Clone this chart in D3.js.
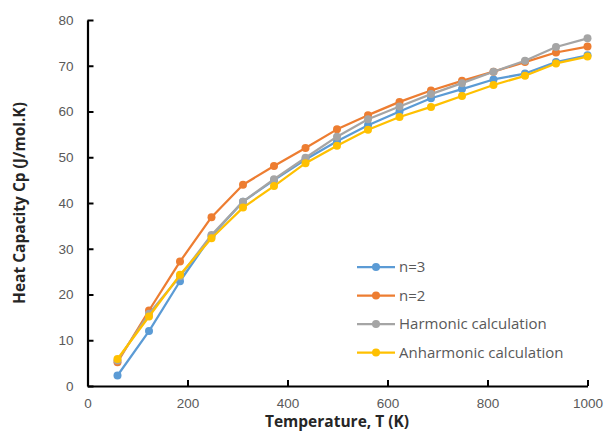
<!DOCTYPE html>
<html>
<head>
<meta charset="utf-8">
<script src="https://cdn.jsdelivr.net/npm/d3@7"></script>
<style>
  html, body { margin: 0; padding: 0; background: #fff; }
  svg { display: block; font-family: "Open Sans", "Liberation Sans", sans-serif; }
  .tick text { fill: #595959; font-size: 13.5px; }
  .axis-title { font-weight: bold; font-size: 15.5px; fill: #262626; }
  .legend text { fill: #595959; font-size: 15px; }
</style>
</head>
<body>
<svg id="chart" width="604" height="439"></svg>
<script>
// temperature (K)
const temps = [60, 123, 185, 248, 311, 373, 436, 499, 561, 624, 687, 749, 812, 875, 937, 1000];

// heat capacity Cp (J/mol.K)
const cpN3 = [2.3, 12.0, 22.9, 32.8, 40.3, 45.0, 49.5, 53.5, 57.0, 60.0, 62.9, 64.9, 67.0, 68.3, 70.8, 72.3];
const cpN2 = [5.2, 16.5, 27.2, 36.9, 44.0, 48.1, 52.0, 56.1, 59.2, 62.1, 64.6, 66.7, 68.7, 70.8, 72.9, 74.2];
const cpHarmonic = [5.6, 15.8, 24.0, 33.0, 40.3, 45.2, 49.9, 54.5, 58.3, 61.1, 63.8, 66.2, 68.7, 71.1, 74.1, 76.0];
const cpAnharmonic = [5.9, 15.2, 24.3, 32.3, 39.0, 43.7, 48.7, 52.5, 56.0, 58.8, 61.0, 63.4, 65.8, 67.8, 70.5, 72.0];

const seriesNames = ["n=3", "n=2", "Harmonic calculation", "Anharmonic calculation"];
const seriesColors = ["#5B9BD5", "#ED7D31", "#A5A5A5", "#FFC000"];

const xTicks = [0, 200, 400, 600, 800, 1000];
const yTicks = [0, 10, 20, 30, 40, 50, 60, 70, 80];

const series = [cpN3, cpN2, cpHarmonic, cpAnharmonic].map((vals, i) => ({
  name: seriesNames[i],
  color: seriesColors[i],
  points: vals.map((v, j) => ({ t: temps[j], cp: v }))
}));

const svg = d3.select("#chart");

const x = d3.scaleLinear().domain([0, 1000]).range([87.5, 587.5]);
const y = d3.scaleLinear().domain([0, 80]).range([386, 20]);

// axes - ticks point inward like the excel original
const xAxis = svg.append("g")
  .attr("transform", `translate(0,${y(0)})`)
  .call(d3.axisBottom(x).tickValues(xTicks).tickFormat(d3.format("d"))
    .tickSizeInner(-6).tickSizeOuter(0).tickPadding(12));
const yAxis = svg.append("g")
  .attr("transform", `translate(${x(0)},0)`)
  .call(d3.axisLeft(y).tickValues(yTicks).tickSizeInner(-6).tickSizeOuter(0).tickPadding(14));

[xAxis, yAxis].forEach((g) => {
  g.select(".domain").attr("stroke", "#000").attr("stroke-width", 2.2);
  g.selectAll(".tick line").attr("stroke", "#000").attr("stroke-width", 2);
});

svg.append("text")
  .attr("class", "axis-title")
  .attr("x", 337)
  .attr("y", 427)
  .attr("text-anchor", "middle")
  .text("Temperature, T (K)");

svg.append("text")
  .attr("class", "axis-title")
  .attr("transform", `translate(25,${(y(0) + y(80)) / 2}) rotate(-90)`)
  .attr("text-anchor", "middle")
  .text("Heat Capacity Cp (J/mol.K)");

const line = d3.line()
  .x((d) => x(d.t))
  .y((d) => y(d.cp));

const plot = svg.append("g");
series.forEach((s) => {
  const g = plot.append("g");
  g.append("path")
    .datum(s.points)
    .attr("fill", "none")
    .attr("stroke", s.color)
    .attr("stroke-width", 2.25)
    .attr("stroke-linejoin", "round")
    .attr("d", line);
  g.selectAll("circle")
    .data(s.points)
    .enter()
    .append("circle")
    .attr("cx", (d) => x(d.t))
    .attr("cy", (d) => y(d.cp))
    .attr("r", 4)
    .attr("fill", s.color);
});

// legend
const legend = svg.append("g").attr("class", "legend");
series.forEach((s, i) => {
  const ly = 267 + i * 28.5;
  const row = legend.append("g").attr("transform", `translate(357,${ly})`);
  row.append("line")
    .attr("x1", 0).attr("x2", 38)
    .attr("stroke", s.color).attr("stroke-width", 2.25);
  row.append("circle").attr("cx", 19).attr("r", 4).attr("fill", s.color);
  row.append("text")
    .attr("x", 42)
    .attr("dy", "0.35em")
    .text(s.name);
});
</script>
</body>
</html>
